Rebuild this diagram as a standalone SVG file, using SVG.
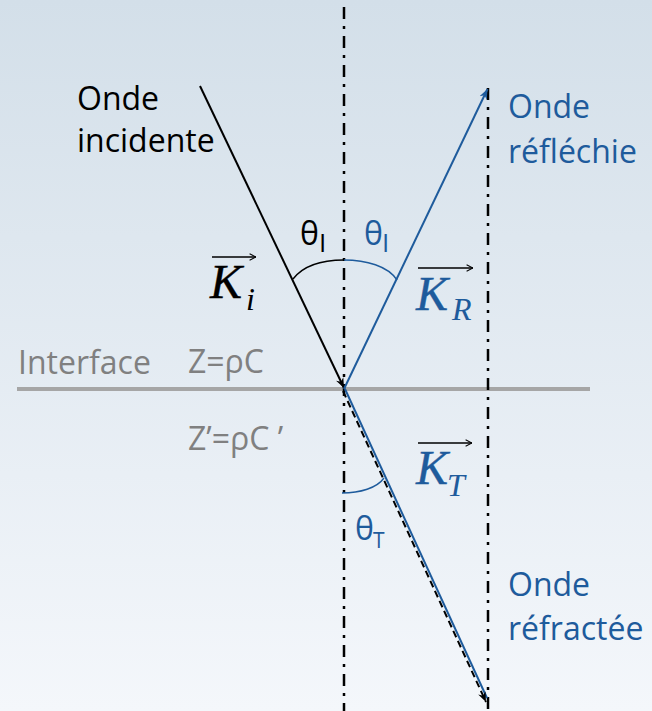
<svg xmlns="http://www.w3.org/2000/svg" width="652" height="711" viewBox="0 0 652 711">
<defs>
<linearGradient id="bg" x1="0" y1="0" x2="0" y2="1">
<stop offset="0" stop-color="#d3dfe9"/>
<stop offset="1" stop-color="#f4f7fb"/>
</linearGradient>
<marker id="arB" viewBox="0 0 10 10" refX="10" refY="5" markerWidth="5" markerHeight="5" orient="auto" markerUnits="strokeWidth">
<path d="M0,1 L10,5 L0,9 L3,5 Z" fill="#000"/>
</marker>
<marker id="arU" viewBox="0 0 10 10" refX="10" refY="5" markerWidth="5" markerHeight="5" orient="auto" markerUnits="strokeWidth">
<path d="M0,1 L10,5 L0,9 L3,5 Z" fill="#1e5b9c"/>
</marker>
<marker id="vec" viewBox="0 0 10 10" refX="10" refY="5" markerWidth="8" markerHeight="8" orient="auto" markerUnits="userSpaceOnUse">
<path d="M2,1 L10,5 L2,9" fill="none" stroke="#000" stroke-width="1.3"/>
</marker>
</defs>
<style>
.axis{stroke:#000;stroke-width:2.5;stroke-dasharray:12 7 3 7;fill:none}
.lbl{font-family:"Open Sans","Liberation Sans",sans-serif;font-size:32px}
.gray{font-family:"Open Sans","Liberation Sans",sans-serif;font-size:32px;fill:#808080}
.blue{fill:#1e5b9c}
.th{font-family:"Open Sans","Liberation Sans",sans-serif;font-size:32px}
.subI{font-family:"Open Sans","Liberation Sans",sans-serif;font-size:26px}
.subT{font-family:"Open Sans","Liberation Sans",sans-serif;font-size:21px}
.K{font-family:"Liberation Serif","Times New Roman",serif;font-style:italic;font-size:48px;stroke-width:0.4}
.Ks{font-family:"Liberation Serif","Times New Roman",serif;font-style:italic;font-size:32px}
.kb{fill:#000;stroke:#000}
.ku{fill:#1e5b9c;stroke:#1e5b9c}
.vecline{stroke:#000;stroke-width:1.6;fill:none}
.arc{fill:none;stroke-width:1.4}
</style>
<rect width="652" height="711" fill="url(#bg)"/>

<g id="interface">
<line x1="17" y1="389" x2="590" y2="389" stroke="#a6a6a6" stroke-width="4"/>
<text class="gray" x="18" y="374">Interface</text>
<text class="gray" x="188" y="373">Z=ρC</text>
<text class="gray" x="188" y="450">Z’=ρC ’</text>
</g>

<g id="axes">
<line class="axis" x1="344" y1="7" x2="344" y2="711"/>
<line class="axis" x1="488" y1="88" x2="488" y2="711"/>
</g>

<g id="connectors">
<line x1="200" y1="86" x2="344" y2="388" stroke="#000" stroke-width="2" marker-end="url(#arB)"/>
<line x1="344" y1="389" x2="487.5" y2="89" stroke="#1e5b9c" stroke-width="2" marker-end="url(#arU)"/>
<line x1="345" y1="389" x2="487" y2="698" stroke="#1e5b9c" stroke-width="2"/>
<line x1="343" y1="391" x2="486" y2="702" stroke="#000" stroke-width="2" stroke-dasharray="7 4" marker-end="url(#arB)"/>
</g>

<g id="angles">
<path class="arc" stroke="#000" d="M293,279 C303,266 320,260 344,260"/>
<path class="arc" stroke="#1e5b9c" d="M344,260 C366,260 388,266 397,280"/>
<path class="arc" stroke="#1e5b9c" d="M342,493 C360,493 377,488 384,478"/>
<text class="th" x="300" y="245">θ</text><text class="subI" x="319" y="252">I</text>
<text class="th blue" x="364" y="245">θ</text><text class="subI blue" x="382" y="252">I</text>
<text class="th blue" x="355" y="540">θ</text><text class="subT blue" x="373" y="548">T</text>
</g>

<g id="incident">
<text class="lbl" x="77" y="110">Onde</text>
<text class="lbl" x="77" y="152">incidente</text>
<line class="vecline" x1="212" y1="257" x2="256" y2="257" marker-end="url(#vec)"/>
<text class="K kb" x="210" y="298">K</text>
<text class="Ks" x="246" y="310">i</text>
</g>

<g id="reflected">
<text class="lbl blue" x="508" y="118">Onde</text>
<text class="lbl blue" x="508" y="163">réfléchie</text>
<line class="vecline" x1="418" y1="268" x2="473" y2="268" marker-end="url(#vec)"/>
<text class="K ku" x="416" y="310">K</text>
<text class="Ks blue" x="452" y="320">R</text>
</g>

<g id="refracted">
<text class="lbl blue" x="508" y="596">Onde</text>
<text class="lbl blue" x="508" y="640">réfractée</text>
<line class="vecline" x1="418" y1="443" x2="472" y2="443" marker-end="url(#vec)"/>
<text class="K ku" x="416" y="484">K</text>
<text class="Ks blue" x="447" y="496">T</text>
</g>
</svg>
